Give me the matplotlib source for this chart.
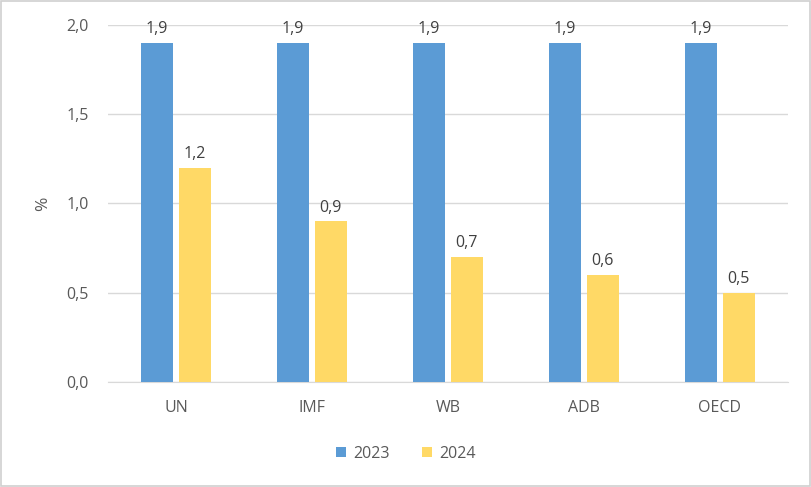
import matplotlib.pyplot as plt
import numpy as np

# forecasts by institution
categories = ['UN', 'IMF', 'WB', 'ADB', 'OECD']
values_2023 = [1.9, 1.9, 1.9, 1.9, 1.9]
values_2024 = [1.2, 0.9, 0.7, 0.6, 0.5]
series_names = ['2023', '2024']

plt.rcParams['font.family'] = ['Open Sans', 'DejaVu Sans']

fig = plt.figure(figsize=(8.12, 4.87), dpi=100)
ax = fig.add_axes([0.133, 0.2156, 0.837, 0.7331])

x = np.arange(len(categories))
w = 0.235
off = 0.14
b1 = ax.bar(x - off, values_2023, w, color='#5B9BD5', label=series_names[0], zorder=3)
b2 = ax.bar(x + off, values_2024, w, color='#FFD966', label=series_names[1], zorder=3)

lab_col = '#404040'
for bars in (b1, b2):
    for r in bars:
        h = r.get_height()
        ax.annotate(('%.1f' % h).replace('.', ','), (r.get_x() + r.get_width() / 2, h),
                    xytext=(0, 4), textcoords='offset points', ha='center', va='bottom',
                    fontsize=11.5, color=lab_col)

ax.set_xlim(-0.5, len(categories) - 0.5)
ax.set_ylim(0, 2.0)
yt = [0, 0.5, 1.0, 1.5, 2.0]
ax.set_yticks(yt)
ax.set_yticklabels([('%.1f' % v).replace('.', ',') for v in yt], fontsize=11.5, color='#595959')
ax.set_xticks(x)
ax.set_xticklabels(categories, fontsize=11.5, color='#595959')
ax.tick_params(length=0)
ax.tick_params(axis='x', pad=13)
ax.tick_params(axis='y', pad=14)
ax.grid(axis='y', color='#D9D9D9', linewidth=1, zorder=0)
for s in ['top', 'right', 'left']:
    ax.spines[s].set_visible(False)
ax.spines['bottom'].set_color('#D9D9D9')
ax.set_ylabel('%', fontsize=12.5, color='#595959', labelpad=11)

fig.legend(loc='center', bbox_to_anchor=(0.5, 0.068), ncol=2, frameon=False,
           fontsize=11.5, handlelength=0.6, handleheight=0.6, columnspacing=2.0,
           handletextpad=0.5, labelcolor='#595959')

# thin gray frame round the picture
fig.patches.append(plt.Rectangle((0.001, 0.002), 0.997, 0.996, transform=fig.transFigure,
                                 fill=False, edgecolor='#D0D0D0', linewidth=1.2))

fig.savefig('out.png', dpi=100)
